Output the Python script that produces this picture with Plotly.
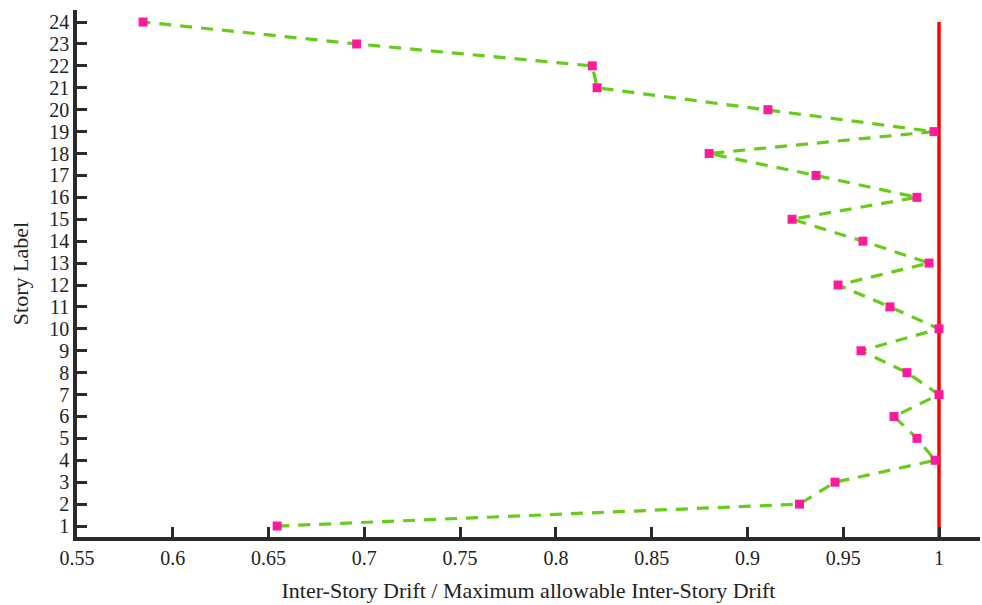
import plotly.graph_objects as go

# Story levels and normalised drift ratios
stories = list(range(1, 25))
drift_ratio = [0.6545, 0.9272, 0.9457, 0.998, 0.9885, 0.9765, 1.0, 0.9833,
               0.9593, 1.0, 0.9744, 0.9473, 0.9948, 0.9603, 0.9233, 0.9885,
               0.9358, 0.880, 0.9974, 0.9107, 0.8215, 0.819, 0.696, 0.5845]

# Allowable limit line
limit_x = [1.0, 1.0]
limit_y = [0.5, 24]

x_ticks = [0.55, 0.6, 0.65, 0.7, 0.75, 0.8, 0.85, 0.9, 0.95, 1.0]
x_tick_text = ["0.55", "0.6", "0.65", "0.7", "0.75", "0.8", "0.85", "0.9", "0.95", "1"]

fig = go.Figure()
fig.add_trace(go.Scatter(
    x=limit_x, y=limit_y, mode="lines",
    line=dict(color="#ff0000", width=3.5),
    showlegend=False, hoverinfo="skip",
))
fig.add_trace(go.Scatter(
    x=drift_ratio, y=stories, mode="lines+markers",
    line=dict(color="#66cc1a", width=3.2, dash="12px,9px"),
    marker=dict(symbol="square", size=9, color="#ff1a9c"),
    showlegend=False,
))

font_family = "Liberation Serif, Times New Roman, serif"
fig.update_layout(
    width=982, height=605,
    margin=dict(l=77, r=2, t=10, b=68),
    paper_bgcolor="white", plot_bgcolor="white",
    font=dict(family=font_family, size=20, color="#222"),
    xaxis=dict(
        range=[0.55, 1.0214],
        tickvals=x_ticks, ticktext=x_tick_text,
        ticks="inside", ticklen=10, tickwidth=3, tickcolor="#2b2b2b",
        showline=True, linewidth=3.5, linecolor="#2b2b2b",
        showgrid=False, zeroline=False,
        title=dict(text="Inter-Story Drift / Maximum allowable Inter-Story Drift",
                   font=dict(size=22), standoff=16),
        tickfont=dict(size=20),
    ),
    yaxis=dict(
        range=[0.5, 24.55],
        tickvals=stories, ticktext=[str(s) for s in stories],
        ticks="inside", ticklen=10, tickwidth=3, tickcolor="#2b2b2b",
        showline=True, linewidth=3.5, linecolor="#2b2b2b",
        showgrid=False, zeroline=False,
        title=dict(text="Story Label", font=dict(size=22), standoff=16),
        tickfont=dict(size=20),
    ),
)

fig.write_html("out.html")
